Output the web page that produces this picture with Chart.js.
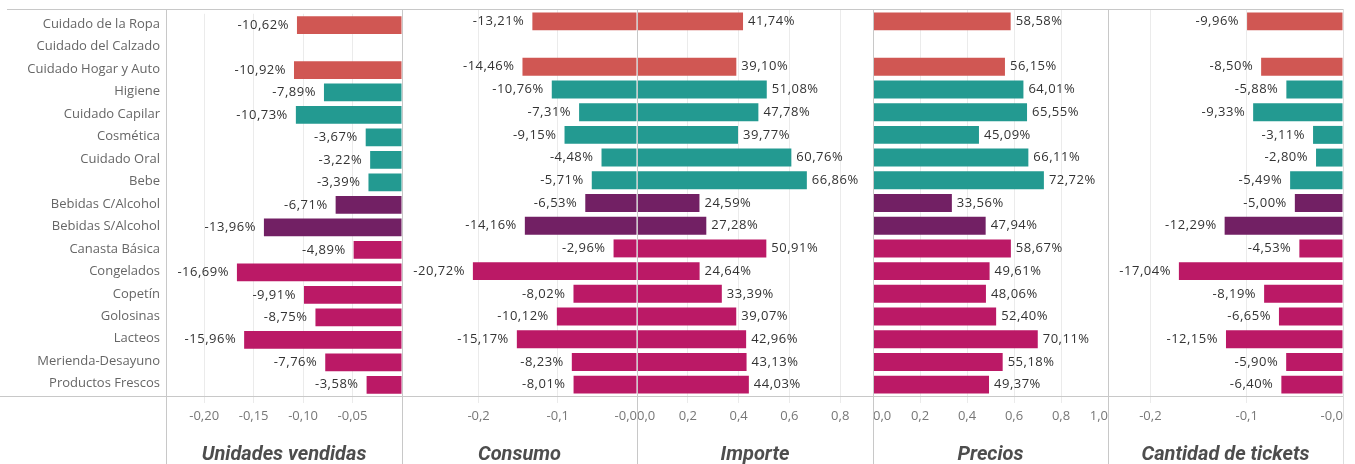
<!DOCTYPE html>
<html lang="es">
<head>
<meta charset="utf-8">
<title>Variación por categoría</title>
<script src="https://cdn.jsdelivr.net/npm/chart.js@4.4.1/dist/chart.umd.min.js"></script>
<style>
  html, body { margin: 0; padding: 0; background: #fff; }
  #wrap { position: relative; width: 1355px; height: 464px; overflow: hidden; }
  #wrap canvas { position: absolute; top: 0; }
  .line { position: absolute; background: #c8c8c8; z-index: 2; }
</style>
</head>
<body>
<div id="wrap">
  <canvas id="unidades-chart" width="402" height="470" style="left:0px"></canvas>
  <canvas id="consumo-chart" width="235" height="470" style="left:402px"></canvas>
  <canvas id="importe-chart" width="236" height="470" style="left:637px"></canvas>
  <canvas id="precios-chart" width="235" height="470" style="left:873px"></canvas>
  <canvas id="tickets-chart" width="235" height="470" style="left:1108px"></canvas>

  <div class="line" style="left:7px;top:9px;width:1337px;height:1px"></div>
  <div class="line" style="left:0px;top:396px;width:1344px;height:1px"></div>
  <div class="line" style="left:166px;top:9px;width:1px;height:460px"></div>
  <div class="line" style="left:402px;top:9px;width:1px;height:460px"></div>
  <div class="line" style="left:637px;top:9px;width:1px;height:460px"></div>
  <div class="line" style="left:873px;top:9px;width:1px;height:460px"></div>
  <div class="line" style="left:1108px;top:9px;width:1px;height:460px"></div>
  <div class="line" style="left:1343px;top:9px;width:1px;height:460px;background:#dedede"></div>
</div>

<script>
// categorias y grupo de color de cada una
var categories = [
  "Cuidado de la Ropa", "Cuidado del Calzado", "Cuidado Hogar y Auto", "Higiene",
  "Cuidado Capilar", "Cosmética", "Cuidado Oral", "Bebe", "Bebidas C/Alcohol",
  "Bebidas S/Alcohol", "Canasta Básica", "Congelados", "Copetín", "Golosinas",
  "Lacteos", "Merienda-Desayuno", "Productos Frescos"
];
var categoryGroup = [0, 0, 0, 1, 1, 1, 1, 1, 2, 2, 3, 3, 3, 3, 3, 3, 3];

// variaciones en %
var unidadesVendidas = [-10.62, null, -10.92, -7.89, -10.73, -3.67, -3.22, -3.39, -6.71, -13.96, -4.89, -16.69, -9.91, -8.75, -15.96, -7.76, -3.58];
var consumo = [-13.21, null, -14.46, -10.76, -7.31, -9.15, -4.48, -5.71, -6.53, -14.16, -2.96, -20.72, -8.02, -10.12, -15.17, -8.23, -8.01];
var importe = [41.74, null, 39.10, 51.08, 47.78, 39.77, 60.76, 66.86, 24.59, 27.28, 50.91, 24.64, 33.39, 39.07, 42.96, 43.13, 44.03];
var precios = [58.58, null, 56.15, 64.01, 65.55, 45.09, 66.11, 72.72, 33.56, 47.94, 58.67, 49.61, 48.06, 52.40, 70.11, 55.18, 49.37];
var cantidadTickets = [-9.96, null, -8.50, -5.88, -9.33, -3.11, -2.80, -5.49, -5.00, -12.29, -4.53, -17.04, -8.19, -6.65, -12.15, -5.90, -6.40];

// marcas de los ejes
var unidadesTicks = [-0.20, -0.15, -0.10, -0.05];
var unidadesTickLabels = ["-0,20", "-0,15", "-0,10", "-0,05"];
var consumoTicks = [-0.2, -0.1, 0];
var consumoTickLabels = ["-0,2", "-0,1", "-0,0"];
var importeTicks = [0, 0.2, 0.4, 0.6, 0.8];
var importeTickLabels = ["0,0", "0,2", "0,4", "0,6", "0,8"];
var preciosTicks = [0, 0.2, 0.4, 0.6, 0.8, 1.0];
var preciosTickLabels = ["0,0", "0,2", "0,4", "0,6", "0,8", "1,0"];
var ticketsTicks = [-0.2, -0.1, 0];
var ticketsTickLabels = ["-0,2", "-0,1", "-0,0"];

var groupColors = ["#d05753", "#239a91", "#722064", "#bb1966"];

Chart.defaults.font.family = "'Open Sans', sans-serif";

function tickIndex(list, value) {
  for (var i = 0; i < list.length; i++) {
    if (Math.abs(list[i] - value) < 1e-6) return i;
  }
  return -1;
}

var valueLabels = {
  id: "valueLabels",
  afterDatasetsDraw: function(chart) {
    var ctx = chart.ctx;
    var ds = chart.data.datasets[0];
    var meta = chart.getDatasetMeta(0);
    ctx.save();
    ctx.font = "13px 'Open Sans'";
    ctx.letterSpacing = "0.5px";
    ctx.fillStyle = "#333333";
    ctx.textBaseline = "middle";
    meta.data.forEach(function(bar, i) {
      var v = ds.percent[i];
      if (v === null) return;
      var text = v.toFixed(2).replace(".", ",") + "%";
      if (v < 0) {
        ctx.textAlign = "right";
        ctx.fillText(text, bar.x - 8, bar.y);
      } else {
        ctx.textAlign = "left";
        ctx.fillText(text, bar.x + 5, bar.y);
      }
    });
    ctx.restore();
  }
};

function buildPanel(id, values, tickValues, tickLabels, min, max, title, showCategories) {
  var ctx = document.getElementById(id).getContext("2d");
  var gridColor = function(c) {
    return c.tick && tickIndex(tickValues, c.tick.value) >= 0 ? "#ebebeb" : "rgba(0,0,0,0)";
  };
  var yAxis = {
    display: showCategories,
    grid: { display: false, drawTicks: false },
    border: { display: false },
    ticks: { padding: 6, labelOffset: -1, autoSkip: false, color: "#666666", font: { size: 13 } }
  };
  if (showCategories) {
    yAxis.afterFit = function(axis) { axis.width = 166; };
  }
  return new Chart(ctx, {
    type: "bar",
    data: {
      labels: categories,
      datasets: [{
        data: values.map(function(v) { return v === null ? null : v / 100; }),
        percent: values,
        backgroundColor: categoryGroup.map(function(g) { return groupColors[g]; }),
        categoryPercentage: 1,
        barPercentage: 0.79
      }]
    },
    options: {
      indexAxis: "y",
      responsive: false,
      animation: false,
      layout: { padding: { top: 10, left: 0, right: 0, bottom: 0 } },
      scales: {
        x: {
          min: min,
          max: max,
          afterFit: function(axis) {
            axis.height = 74;
            axis.paddingLeft = 0;
            axis.paddingRight = 0;
          },
          afterBuildTicks: function(axis) {
            var vals = [axis.min].concat(tickValues, [axis.max]);
            var out = [];
            vals.forEach(function(v) {
              if (!out.some(function(t) { return Math.abs(t.value - v) < 1e-6; })) out.push({ value: v });
            });
            axis.ticks = out;
          },
          grid: { color: gridColor, tickColor: gridColor, tickLength: 7, drawTicks: true },
          border: { display: false },
          ticks: {
            align: "inner",
            padding: 5,
            autoSkip: false,
            maxRotation: 0,
            color: "#777777",
            font: { size: 13 },
            callback: function(value) {
              var k = tickIndex(tickValues, value);
              return k >= 0 ? tickLabels[k] : "";
            }
          },
          title: {
            display: true,
            text: title,
            color: "#4d4d4d",
            font: { family: "Roboto", size: 20, weight: "bold", style: "italic" },
            padding: { top: 0, bottom: 3 }
          }
        },
        y: yAxis
      },
      plugins: {
        legend: { display: false },
        tooltip: { enabled: false }
      }
    },
    plugins: [valueLabels]
  });
}

document.addEventListener("DOMContentLoaded", function() {
  buildPanel("unidades-chart", unidadesVendidas, unidadesTicks, unidadesTickLabels, -0.2386, 0, "Unidades vendidas", true);
  buildPanel("consumo-chart", consumo, consumoTicks, consumoTickLabels, -0.2967, 0, "Consumo", false);
  buildPanel("importe-chart", importe, importeTicks, importeTickLabels, 0, 0.929, "Importe", false);
  buildPanel("precios-chart", precios, preciosTicks, preciosTickLabels, 0, 1.0, "Precios", false);
  buildPanel("tickets-chart", cantidadTickets, ticketsTicks, ticketsTickLabels, -0.244, 0, "Cantidad de tickets", false);
});
</script>
</body>
</html>
